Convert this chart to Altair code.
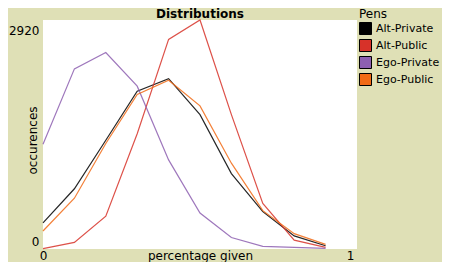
import altair as alt
import pandas as pd

x_vals = [0.0, 0.1, 0.2, 0.3, 0.4, 0.5, 0.6, 0.7, 0.8, 0.9]
alt_private = [334, 768, 1387, 2013, 2172, 1713, 961, 476, 167, 42]
alt_public = [5, 84, 418, 1470, 2673, 2920, 1713, 580, 113, 21]
ego_private = [1337, 2297, 2506, 2076, 1136, 459, 146, 34, 21, 9]
ego_public = [230, 648, 1345, 1971, 2151, 1825, 1094, 489, 196, 59]

pens = ["Alt-Private", "Alt-Public", "Ego-Private", "Ego-Public"]
colors = ["#000000", "#d73229", "#8d5fb0", "#f16a15"]
series = [alt_private, alt_public, ego_private, ego_public]

rows = []
for pen, vals in zip(pens, series):
    for x, v in zip(x_vals, vals):
        rows.append({"pen": pen, "x": x, "y": v})
df = pd.DataFrame(rows)

FONT = "DejaVu Sans"
BG = "#dfe0b6"

x_enc = alt.X("x:Q", scale=alt.Scale(domain=[0, 1], nice=False, zero=False),
              axis=alt.Axis(title="percentage given", values=[0, 1], format="d", grid=False,
                            ticks=False, domain=False, labelPadding=1, labelFontSize=12,
                            labelFont=FONT, labelColor="#000000", labelFlush=False,
                            labelOffset={"condition": {"test": "datum.value == 1", "value": -7}, "value": 0},
                            titleFont=FONT, titleFontSize=12, titleFontWeight="normal",
                            titleColor="#000000", titleY=10, titleBaseline="alphabetic"))
y_enc = alt.Y("y:Q", scale=alt.Scale(domain=[0, 2920], nice=False),
              axis=alt.Axis(title="occurences", values=[0, 2920], format="d", grid=False,
                            ticks=False, domain=False, labelPadding=4, labelFontSize=12,
                            labelFont=FONT, labelColor="#000000", labelFlush=False,
                            labelBaseline={"condition": {"test": "datum.value == 0", "value": "alphabetic"}, "value": "top"},
                            labelOffset={"condition": {"test": "datum.value == 0", "value": -4}, "value": 5},
                            titleFont=FONT, titleFontSize=12, titleFontWeight="normal",
                            titleColor="#000000", titleX=-7, titleY=120,
                            titleBaseline="alphabetic"))

lines = alt.Chart(df).mark_line(strokeWidth=1.2, opacity=0.85).encode(
    x=x_enc,
    y=y_enc,
    stroke=alt.Stroke("pen:N", scale=alt.Scale(domain=pens, range=colors), legend=None),
)

legend_pts = alt.Chart(df).mark_square(opacity=0, size=144).encode(
    x=alt.X("x:Q"),
    y=alt.Y("y:Q"),
    fill=alt.Fill("pen:N", scale=alt.Scale(domain=pens, range=colors),
                  legend=alt.Legend(title="Pens", orient="none", legendX=316, legendY=-11,
                                    symbolType="square", symbolSize=144,
                                    symbolStrokeColor="#000000", symbolStrokeWidth=1,
                                    symbolOpacity=1,
                                    labelFont=FONT, labelFontSize=11, labelColor="#000000",
                                    titleFont=FONT, titleFontSize=12, titleFontWeight="normal",
                                    titleColor="#000000", titlePadding=1, rowPadding=0,
                                    labelOffset=4, padding=0)),
)

chart = alt.layer(lines, legend_pts).resolve_scale(fill="independent").properties(
    width=314,
    height=229,
    background=BG,
    padding={"left": 35, "top": 12, "right": 85, "bottom": 13},
    autosize=alt.AutoSizeParams(type="none"),
    title=alt.TitleParams("Distributions", font=FONT, fontSize=12, fontWeight="bold",
                          color="#000000", offset=4, dy=16, anchor="middle"),
).configure_view(fill="#ffffff", stroke=None)

chart.save("out.html", embed_options={"renderer": "svg", "actions": False})
